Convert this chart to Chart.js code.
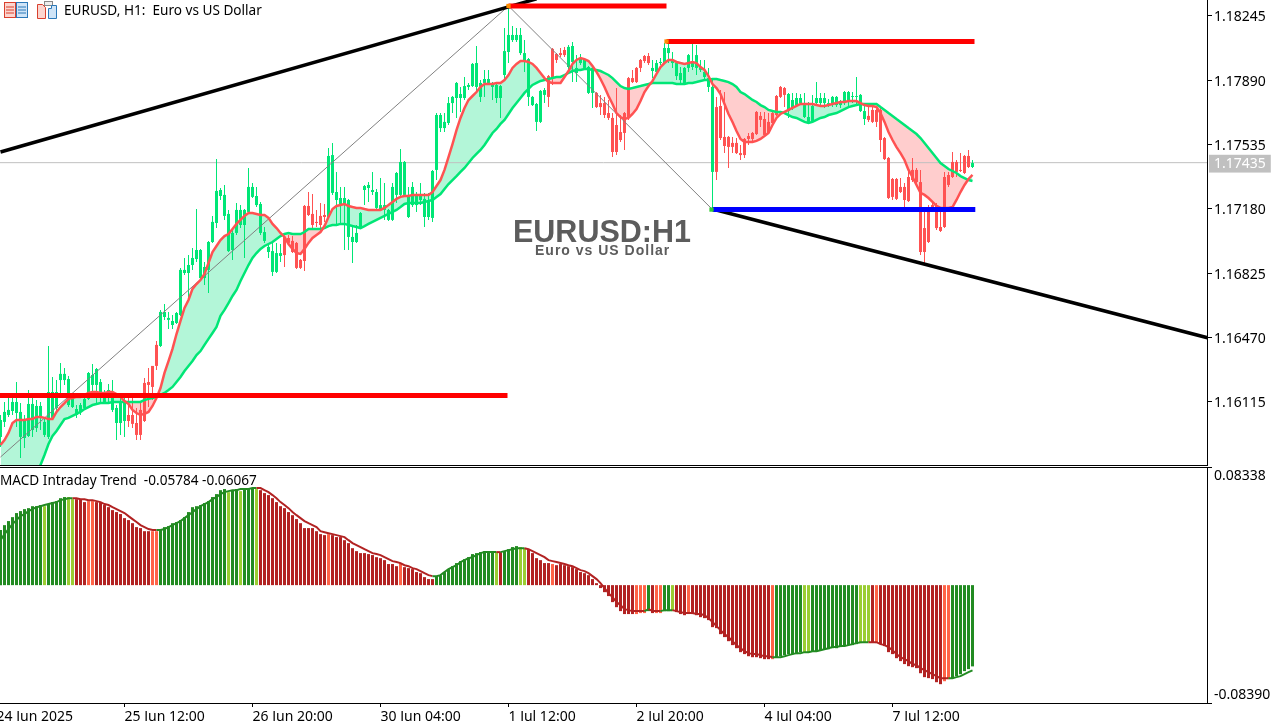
<!DOCTYPE html>
<html>
<head>
<meta charset="utf-8">
<title>EURUSD H1</title>
<script src="https://cdn.jsdelivr.net/npm/chart.js@4/dist/chart.umd.min.js"></script>
<style>
  html, body { margin: 0; background: #fff; overflow: hidden; }
  body { width: 1284px; height: 721px; position: relative; font-family: 'Noto Sans', sans-serif; }
  canvas { position: absolute; left: 0; }
  #chart-price { top: 0; }
  #chart-macd { top: 466px; }
  .label { position: absolute; white-space: pre; color: #000; font-size: 13.6px; line-height: 18px; }
  .mark { position: absolute; font-family: 'Liberation Sans', sans-serif; font-weight: bold; color: #5c5c5c; white-space: pre; }
  svg { position: absolute; }
</style>
</head>
<body>
<canvas id="chart-price" width="1284" height="466"></canvas>
<canvas id="chart-macd" width="1284" height="255"></canvas>

<svg style="left:4px;top:2px" width="24" height="16" viewBox="0 0 24 16">
  <rect x="0.5" y="0.5" width="11" height="15" fill="#fbd5cf" stroke="#d9402e"/>
  <rect x="12.5" y="0.5" width="11" height="15" fill="#cfe4f7" stroke="#2b78b8"/>
  <path d="M2 5h8M2 8h8M2 11h8" stroke="#d9402e"/>
  <path d="M14 5h8M14 8h8M14 11h8" stroke="#2b78b8"/>
</svg>
<svg style="left:37px;top:1px" width="22" height="18" viewBox="0 0 22 18">
  <path d="M0.5 3.5h5l3 3v11h-8z" fill="#fbd5cf" stroke="#d9402e"/>
  <rect x="7.5" y="0.5" width="8" height="4" fill="#eee" stroke="#888"/>
  <path d="M11.5 7.5h3v-3h5v13h-8z" fill="#cfe4f7" stroke="#2b78b8"/>
</svg>
<div class="label" style="left:64px;top:1px">EURUSD, H1:  Euro vs US Dollar</div>
<div class="label" style="left:0;top:471px">MACD Intraday Trend  -0.05784 -0.06067</div>
<div class="mark" style="left:513px;top:214px;font-size:30.5px;line-height:34px">EURUSD:H1</div>
<div class="mark" style="left:535px;top:242px;font-size:14px;line-height:16px;letter-spacing:1px">Euro vs US Dollar</div>

<script>
const highs = [
  1.16042,1.16114,1.16142,1.16142,1.16224,1.16108,1.16042,1.16180,1.16136,1.16125,
  1.16114,1.16031,1.16423,1.16252,1.16235,1.16329,1.16302,1.16257,1.16164,1.16097,
  1.16108,1.16142,1.16280,1.16324,1.16302,1.16241,1.16180,1.16213,1.16235,1.16097,
  1.16136,1.16136,1.16136,1.16136,1.16081,1.16108,1.16246,1.16302,1.16313,1.16451,
  1.16622,1.16655,1.16611,1.16594,1.16611,1.16854,1.16909,1.16925,1.16964,1.17179,
  1.16959,1.16887,1.17003,1.17141,1.17455,1.17295,1.17312,1.17174,1.17074,1.17212,
  1.17201,1.17179,1.17406,1.17323,1.17301,1.17218,1.17080,1.16992,1.16992,1.16992,
  1.16986,1.17030,1.17036,1.17030,1.16997,1.16903,1.17201,1.17273,1.17262,1.17174,
  1.17212,1.17207,1.17516,1.17544,1.17384,1.17301,1.17301,1.17235,1.17091,1.17091,
  1.17163,1.17312,1.17328,1.17384,1.17290,1.17350,1.17323,1.17179,1.17323,1.17384,
  1.17511,1.17444,1.17301,1.17328,1.17273,1.17323,1.17268,1.17268,1.17395,1.17709,
  1.17709,1.17709,1.17798,1.17803,1.17880,1.17853,1.17908,1.17875,1.17985,1.18079,
  1.17891,1.17947,1.17947,1.17880,1.17875,1.17864,1.18178,1.18300,1.18189,1.18178,
  1.18178,1.18112,1.18013,1.17803,1.17764,1.17836,1.17847,1.17919,1.18068,1.18040,
  1.18068,1.18074,1.18085,1.18101,1.18029,1.18035,1.18013,1.17969,1.17963,1.17825,
  1.17809,1.17798,1.17781,1.17709,1.17847,1.17698,1.17715,1.17908,1.17947,1.17963,
  1.18007,1.18029,1.18040,1.18002,1.18002,1.18013,1.18096,1.18112,1.18046,1.17991,
  1.17963,1.17963,1.18035,1.18096,1.18085,1.18002,1.18002,1.17958,1.17902,1.17798,
  1.17836,1.17825,1.17582,1.17577,1.17571,1.17533,1.17571,1.17599,1.17604,1.17720,
  1.17715,1.17715,1.17709,1.17726,1.17809,1.17858,1.17853,1.17820,1.17820,1.17820,
  1.17814,1.17820,1.17770,1.17809,1.17880,1.17820,1.17820,1.17787,1.17803,1.17803,
  1.17781,1.17831,1.17831,1.17825,1.17908,1.17814,1.17764,1.17753,1.17748,1.17731,
  1.17737,1.17577,1.17466,1.17350,1.17350,1.17350,1.17323,1.17406,1.17461,1.17406,
  1.17395,1.17190,1.17201,1.17212,1.17212,1.17190,1.17384,1.17384,1.17494,1.17450,
  1.17488,1.17477,1.17505,1.17450
]
const lows = [
  1.15866,1.15976,1.16031,1.16042,1.15976,1.15805,1.15860,1.15921,1.15921,1.15948,
  1.15959,1.15921,1.15910,1.16015,1.16059,1.16136,1.16208,1.16086,1.16081,1.16026,
  1.16042,1.16070,1.16125,1.16169,1.16108,1.16114,1.16108,1.16108,1.16059,1.15904,
  1.15932,1.15921,1.15976,1.15970,1.15904,1.15904,1.16004,1.16086,1.16125,1.16291,
  1.16418,1.16567,1.16517,1.16517,1.16545,1.16589,1.16815,1.16677,1.16843,1.16887,
  1.16793,1.16760,1.16716,1.16992,1.17074,1.17229,1.17119,1.16942,1.16898,1.17036,
  1.17074,1.16909,1.17157,1.17240,1.17190,1.17036,1.16992,1.16909,1.16809,1.16826,
  1.16887,1.16859,1.16981,1.16936,1.16848,1.16848,1.16837,1.17141,1.17063,1.17080,
  1.17047,1.17108,1.17130,1.17257,1.17091,1.17091,1.16953,1.16953,1.16881,1.16992,
  1.17069,1.17201,1.17218,1.17257,1.17174,1.17168,1.17119,1.17113,1.17113,1.17212,
  1.17251,1.17251,1.17130,1.17190,1.17163,1.17201,1.17080,1.17119,1.17108,1.17339,
  1.17604,1.17604,1.17643,1.17709,1.17682,1.17715,1.17781,1.17836,1.17853,1.17825,
  1.17770,1.17798,1.17864,1.17781,1.17764,1.17682,1.17891,1.17985,1.18101,1.18101,
  1.18029,1.17936,1.17748,1.17748,1.17610,1.17654,1.17764,1.17742,1.17864,1.17985,
  1.18018,1.18018,1.17947,1.17880,1.17880,1.17974,1.17952,1.17814,1.17737,1.17737,
  1.17698,1.17682,1.17671,1.17466,1.17477,1.17549,1.17505,1.17671,1.17875,1.17875,
  1.17936,1.17985,1.17974,1.17902,1.17919,1.17974,1.17980,1.17985,1.17958,1.17891,
  1.17864,1.17864,1.17936,1.17947,1.17919,1.17936,1.17891,1.17825,1.17185,1.17339,
  1.17560,1.17488,1.17406,1.17488,1.17483,1.17450,1.17461,1.17533,1.17544,1.17588,
  1.17632,1.17582,1.17593,1.17643,1.17693,1.17792,1.17742,1.17682,1.17726,1.17742,
  1.17753,1.17682,1.17654,1.17654,1.17753,1.17753,1.17737,1.17742,1.17742,1.17742,
  1.17737,1.17753,1.17737,1.17764,1.17753,1.17715,1.17643,1.17660,1.17654,1.17632,
  1.17494,1.17450,1.17235,1.17229,1.17229,1.17268,1.17185,1.17218,1.17328,1.17323,
  1.16925,1.16881,1.16992,1.17163,1.17063,1.17052,1.17074,1.17301,1.17350,1.17356,
  1.17384,1.17373,1.17406,1.17406
]
const bodyTop = [
  1.16015,1.16059,1.16070,1.16114,1.16114,1.16059,1.16015,1.16103,1.16103,1.16092,
  1.16092,1.16004,1.16169,1.16169,1.16169,1.16269,1.16269,1.16241,1.16136,1.16075,
  1.16097,1.16131,1.16274,1.16263,1.16296,1.16224,1.16153,1.16180,1.16169,1.16081,
  1.16108,1.16114,1.16042,1.16042,1.15998,1.16070,1.16219,1.16224,1.16313,1.16429,
  1.16611,1.16611,1.16578,1.16561,1.16605,1.16843,1.16843,1.16870,1.16909,1.16953,
  1.16953,1.16859,1.16997,1.17108,1.17279,1.17284,1.17257,1.17152,1.17047,1.17174,
  1.17174,1.17174,1.17301,1.17301,1.17251,1.17207,1.17052,1.16970,1.16947,1.16936,
  1.16936,1.17025,1.17019,1.17003,1.16992,1.16898,1.17196,1.17196,1.17152,1.17108,
  1.17141,1.17146,1.17472,1.17477,1.17273,1.17240,1.17240,1.17229,1.17025,1.17047,
  1.17157,1.17306,1.17312,1.17284,1.17273,1.17201,1.17201,1.17174,1.17301,1.17378,
  1.17439,1.17439,1.17251,1.17301,1.17251,1.17251,1.17235,1.17229,1.17389,1.17698,
  1.17698,1.17660,1.17764,1.17798,1.17875,1.17814,1.17858,1.17864,1.17980,1.17985,
  1.17875,1.17897,1.17897,1.17875,1.17864,1.17858,1.18051,1.18140,1.18140,1.18140,
  1.18140,1.18040,1.18007,1.17798,1.17759,1.17831,1.17836,1.17913,1.18063,1.18035,
  1.18040,1.18057,1.18074,1.18079,1.17958,1.18013,1.18002,1.17963,1.17958,1.17820,
  1.17764,1.17764,1.17709,1.17682,1.17643,1.17604,1.17709,1.17902,1.17902,1.17958,
  1.18002,1.18024,1.18024,1.17958,1.17985,1.17991,1.18068,1.18068,1.18002,1.17985,
  1.17930,1.17958,1.18029,1.17991,1.18029,1.17963,1.17936,1.17902,1.17853,1.17742,
  1.17748,1.17577,1.17577,1.17544,1.17544,1.17488,1.17566,1.17582,1.17599,1.17715,
  1.17693,1.17676,1.17660,1.17709,1.17803,1.17853,1.17847,1.17814,1.17781,1.17792,
  1.17792,1.17753,1.17687,1.17748,1.17792,1.17792,1.17792,1.17764,1.17798,1.17798,
  1.17770,1.17825,1.17825,1.17803,1.17803,1.17809,1.17720,1.17693,1.17726,1.17726,
  1.17726,1.17571,1.17461,1.17345,1.17345,1.17301,1.17301,1.17356,1.17395,1.17395,
  1.17328,1.17074,1.17190,1.17201,1.17201,1.17080,1.17356,1.17367,1.17439,1.17439,
  1.17395,1.17472,1.17472,1.17433
]
const bodyBottom = [
  1.15921,1.16004,1.16042,1.16064,1.16053,1.15921,1.15915,1.15926,1.15959,1.15970,
  1.16031,1.15932,1.15921,1.16026,1.16081,1.16235,1.16235,1.16097,1.16086,1.16042,
  1.16059,1.16081,1.16131,1.16208,1.16208,1.16136,1.16114,1.16136,1.16070,1.15998,
  1.15998,1.16009,1.16009,1.15993,1.15932,1.15932,1.16009,1.16208,1.16197,1.16313,
  1.16423,1.16583,1.16567,1.16539,1.16550,1.16594,1.16826,1.16826,1.16870,1.16903,
  1.16798,1.16798,1.16843,1.16997,1.17102,1.17251,1.17141,1.16947,1.16953,1.17047,
  1.17091,1.17091,1.17163,1.17246,1.17201,1.17047,1.17003,1.16942,1.16832,1.16832,
  1.16920,1.16925,1.16992,1.16942,1.16854,1.16854,1.16892,1.17146,1.17091,1.17102,
  1.17091,1.17135,1.17135,1.17268,1.17229,1.17201,1.17201,1.17025,1.16997,1.16997,
  1.17074,1.17284,1.17295,1.17273,1.17185,1.17174,1.17174,1.17119,1.17119,1.17257,
  1.17257,1.17257,1.17135,1.17201,1.17201,1.17229,1.17135,1.17135,1.17130,1.17395,
  1.17626,1.17626,1.17654,1.17764,1.17792,1.17792,1.17792,1.17853,1.17858,1.17853,
  1.17798,1.17875,1.17875,1.17853,1.17792,1.17792,1.17919,1.18046,1.18112,1.18112,
  1.18040,1.17991,1.17798,1.17753,1.17660,1.17660,1.17809,1.17798,1.17902,1.18002,
  1.18029,1.18029,1.17963,1.17991,1.17930,1.17985,1.17958,1.17820,1.17820,1.17742,
  1.17742,1.17698,1.17682,1.17494,1.17494,1.17560,1.17599,1.17682,1.17880,1.17880,
  1.17958,1.17996,1.17985,1.17941,1.17936,1.17985,1.17985,1.18040,1.17985,1.17913,
  1.17891,1.17875,1.17958,1.17963,1.17958,1.17947,1.17908,1.17853,1.17384,1.17384,
  1.17571,1.17527,1.17522,1.17522,1.17488,1.17477,1.17477,1.17566,1.17566,1.17593,
  1.17671,1.17588,1.17599,1.17654,1.17698,1.17798,1.17809,1.17720,1.17737,1.17753,
  1.17764,1.17687,1.17660,1.17660,1.17764,1.17764,1.17764,1.17753,1.17759,1.17753,
  1.17753,1.17764,1.17781,1.17798,1.17798,1.17720,1.17676,1.17671,1.17660,1.17660,
  1.17560,1.17455,1.17240,1.17246,1.17235,1.17273,1.17229,1.17223,1.17339,1.17328,
  1.16942,1.16942,1.16997,1.17190,1.17074,1.17058,1.17080,1.17312,1.17356,1.17384,
  1.17389,1.17378,1.17411,1.17411
]
const fastMA = [
  1.15877,1.15904,1.15943,1.15998,1.16015,1.16015,1.16015,1.16020,1.16020,1.16031,
  1.16031,1.16026,1.16020,1.16020,1.16059,1.16086,1.16108,1.16131,1.16136,1.16142,
  1.16142,1.16153,1.16164,1.16169,1.16169,1.16164,1.16164,1.16169,1.16169,1.16158,
  1.16142,1.16119,1.16103,1.16070,1.16053,1.16042,1.16048,1.16059,1.16092,1.16136,
  1.16191,1.16274,1.16340,1.16407,1.16489,1.16561,1.16633,1.16677,1.16738,1.16765,
  1.16787,1.16821,1.16881,1.16942,1.16975,1.17008,1.17030,1.17041,1.17069,1.17097,
  1.17119,1.17141,1.17157,1.17157,1.17152,1.17146,1.17146,1.17130,1.17097,1.17074,
  1.17047,1.17025,1.16986,1.16959,1.16936,1.16931,1.16959,1.16992,1.17019,1.17036,
  1.17052,1.17085,1.17135,1.17179,1.17196,1.17201,1.17207,1.17196,1.17190,1.17185,
  1.17185,1.17179,1.17174,1.17174,1.17174,1.17174,1.17185,1.17201,1.17218,1.17235,
  1.17246,1.17251,1.17251,1.17257,1.17257,1.17257,1.17257,1.17257,1.17273,1.17306,
  1.17339,1.17395,1.17466,1.17538,1.17615,1.17682,1.17737,1.17781,1.17803,1.17825,
  1.17853,1.17869,1.17869,1.17869,1.17875,1.17875,1.17891,1.17919,1.17958,1.17980,
  1.17996,1.17996,1.17991,1.17980,1.17958,1.17930,1.17902,1.17880,1.17875,1.17875,
  1.17875,1.17908,1.17941,1.17980,1.18002,1.18013,1.18007,1.17996,1.17969,1.17936,
  1.17897,1.17853,1.17803,1.17759,1.17709,1.17687,1.17676,1.17682,1.17704,1.17731,
  1.17775,1.17825,1.17858,1.17886,1.17925,1.17963,1.17985,1.18002,1.18002,1.17991,
  1.17985,1.17980,1.17985,1.17991,1.17985,1.17963,1.17947,1.17913,1.17869,1.17847,
  1.17814,1.17759,1.17704,1.17660,1.17610,1.17566,1.17549,1.17549,1.17549,1.17555,
  1.17566,1.17582,1.17599,1.17643,1.17682,1.17704,1.17715,1.17726,1.17737,1.17748,
  1.17759,1.17759,1.17759,1.17759,1.17753,1.17748,1.17748,1.17753,1.17759,1.17764,
  1.17770,1.17770,1.17775,1.17775,1.17775,1.17764,1.17753,1.17748,1.17748,1.17742,
  1.17709,1.17660,1.17604,1.17560,1.17521,1.17488,1.17450,1.17395,1.17356,1.17312,
  1.17268,1.17257,1.17240,1.17218,1.17196,1.17185,1.17185,1.17185,1.17190,1.17229,
  1.17273,1.17312,1.17345,1.17367
]
const slowMA = [
  1.15490,1.15518,1.15545,1.15573,1.15601,1.15628,1.15656,1.15683,1.15705,1.15733,
  1.15766,1.15821,1.15882,1.15926,1.15954,1.15987,1.16020,1.16026,1.16037,1.16048,
  1.16059,1.16075,1.16086,1.16097,1.16103,1.16108,1.16108,1.16108,1.16114,1.16114,
  1.16114,1.16114,1.16114,1.16114,1.16114,1.16114,1.16125,1.16131,1.16136,1.16142,
  1.16153,1.16164,1.16180,1.16197,1.16224,1.16252,1.16285,1.16313,1.16340,1.16373,
  1.16395,1.16429,1.16462,1.16495,1.16528,1.16589,1.16622,1.16660,1.16699,1.16732,
  1.16782,1.16826,1.16870,1.16909,1.16936,1.16959,1.16975,1.16986,1.16997,1.17014,
  1.17030,1.17041,1.17047,1.17041,1.17041,1.17041,1.17052,1.17069,1.17069,1.17069,
  1.17069,1.17074,1.17085,1.17091,1.17091,1.17097,1.17097,1.17091,1.17085,1.17080,
  1.17074,1.17085,1.17097,1.17108,1.17119,1.17130,1.17141,1.17152,1.17163,1.17174,
  1.17190,1.17207,1.17212,1.17212,1.17212,1.17212,1.17218,1.17223,1.17229,1.17246,
  1.17262,1.17290,1.17317,1.17339,1.17361,1.17384,1.17406,1.17433,1.17461,1.17483,
  1.17505,1.17533,1.17566,1.17599,1.17621,1.17649,1.17671,1.17704,1.17737,1.17764,
  1.17792,1.17820,1.17842,1.17864,1.17875,1.17886,1.17891,1.17897,1.17902,1.17908,
  1.17908,1.17919,1.17930,1.17941,1.17947,1.17947,1.17952,1.17952,1.17947,1.17947,
  1.17941,1.17930,1.17919,1.17902,1.17880,1.17858,1.17847,1.17842,1.17847,1.17853,
  1.17858,1.17864,1.17869,1.17875,1.17875,1.17875,1.17875,1.17875,1.17875,1.17869,
  1.17869,1.17869,1.17875,1.17875,1.17880,1.17886,1.17891,1.17891,1.17897,1.17897,
  1.17891,1.17886,1.17880,1.17869,1.17853,1.17825,1.17814,1.17798,1.17781,1.17770,
  1.17753,1.17742,1.17726,1.17720,1.17715,1.17715,1.17709,1.17698,1.17687,1.17682,
  1.17671,1.17660,1.17654,1.17660,1.17671,1.17682,1.17687,1.17698,1.17704,1.17709,
  1.17720,1.17731,1.17742,1.17748,1.17753,1.17759,1.17759,1.17759,1.17759,1.17759,
  1.17742,1.17726,1.17709,1.17693,1.17676,1.17660,1.17643,1.17626,1.17610,1.17593,
  1.17571,1.17544,1.17516,1.17488,1.17461,1.17433,1.17417,1.17400,1.17389,1.17378,
  1.17361,1.17350,1.17339,1.17334
]
const macdHist = [
  0.0392,0.0427,0.0456,0.0484,0.0513,0.0527,0.0541,0.0548,0.0562,0.0562,
  0.0570,0.0562,0.0577,0.0591,0.0598,0.0619,0.0627,0.0627,0.0612,0.0612,
  0.0612,0.0591,0.0598,0.0598,0.0591,0.0591,0.0570,0.0555,0.0534,0.0520,
  0.0506,0.0477,0.0463,0.0441,0.0413,0.0406,0.0384,0.0384,0.0384,0.0384,
  0.0392,0.0413,0.0420,0.0441,0.0449,0.0463,0.0484,0.0520,0.0555,0.0562,
  0.0570,0.0584,0.0598,0.0627,0.0648,0.0676,0.0684,0.0662,0.0676,0.0684,
  0.0669,0.0684,0.0684,0.0691,0.0684,0.0676,0.0655,0.0641,0.0619,0.0591,
  0.0562,0.0548,0.0520,0.0498,0.0470,0.0441,0.0406,0.0406,0.0406,0.0384,
  0.0363,0.0356,0.0363,0.0356,0.0342,0.0342,0.0320,0.0299,0.0263,0.0242,
  0.0228,0.0228,0.0221,0.0214,0.0199,0.0192,0.0178,0.0150,0.0150,0.0135,
  0.0157,0.0128,0.0121,0.0114,0.0093,0.0085,0.0057,0.0043,0.0043,0.0064,
  0.0071,0.0093,0.0114,0.0135,0.0157,0.0171,0.0185,0.0199,0.0221,0.0228,
  0.0235,0.0242,0.0242,0.0242,0.0235,0.0235,0.0242,0.0256,0.0271,0.0278,
  0.0271,0.0263,0.0256,0.0228,0.0192,0.0178,0.0157,0.0157,0.0150,0.0142,
  0.0150,0.0142,0.0135,0.0128,0.0114,0.0093,0.0085,0.0071,0.0043,0.0014,
  -0.0021,-0.0050,-0.0078,-0.0121,-0.0157,-0.0185,-0.0206,-0.0206,-0.0206,-0.0206,
  -0.0199,-0.0199,-0.0185,-0.0199,-0.0199,-0.0199,-0.0185,-0.0185,-0.0185,-0.0192,
  -0.0206,-0.0214,-0.0206,-0.0206,-0.0214,-0.0228,-0.0235,-0.0249,-0.0299,-0.0306,
  -0.0349,-0.0370,-0.0399,-0.0427,-0.0449,-0.0477,-0.0491,-0.0506,-0.0513,-0.0513,
  -0.0520,-0.0527,-0.0527,-0.0527,-0.0513,-0.0506,-0.0498,-0.0491,-0.0491,-0.0491,
  -0.0477,-0.0477,-0.0477,-0.0470,-0.0470,-0.0463,-0.0456,-0.0456,-0.0449,-0.0449,
  -0.0441,-0.0434,-0.0427,-0.0427,-0.0420,-0.0413,-0.0406,-0.0406,-0.0406,-0.0413,
  -0.0420,-0.0434,-0.0477,-0.0491,-0.0520,-0.0541,-0.0562,-0.0577,-0.0584,-0.0591,
  -0.0627,-0.0655,-0.0662,-0.0669,-0.0691,-0.0705,-0.0684,-0.0669,-0.0662,-0.0648,
  -0.0634,-0.0612,-0.0598,-0.05784
]
const macdSignal = [
  0.0320,0.0363,0.0399,0.0434,0.0463,0.0491,0.0506,0.0527,0.0541,0.0555,
  0.0562,0.0570,0.0577,0.0584,0.0591,0.0605,0.0612,0.0619,0.0619,0.0619,
  0.0612,0.0612,0.0605,0.0605,0.0598,0.0591,0.0577,0.0570,0.0555,0.0541,
  0.0527,0.0513,0.0491,0.0470,0.0449,0.0427,0.0413,0.0399,0.0392,0.0392,
  0.0392,0.0399,0.0413,0.0427,0.0441,0.0456,0.0477,0.0498,0.0520,0.0541,
  0.0562,0.0577,0.0591,0.0612,0.0627,0.0648,0.0662,0.0669,0.0676,0.0676,
  0.0684,0.0684,0.0684,0.0691,0.0691,0.0691,0.0676,0.0662,0.0641,0.0619,
  0.0591,0.0570,0.0548,0.0520,0.0498,0.0477,0.0456,0.0441,0.0427,0.0413,
  0.0384,0.0377,0.0370,0.0363,0.0356,0.0349,0.0342,0.0320,0.0299,0.0285,
  0.0271,0.0256,0.0242,0.0228,0.0221,0.0214,0.0199,0.0185,0.0171,0.0164,
  0.0157,0.0142,0.0135,0.0121,0.0114,0.0100,0.0085,0.0071,0.0064,0.0064,
  0.0071,0.0093,0.0114,0.0128,0.0142,0.0164,0.0178,0.0192,0.0199,0.0214,
  0.0228,0.0235,0.0235,0.0235,0.0235,0.0235,0.0242,0.0249,0.0256,0.0263,
  0.0263,0.0263,0.0256,0.0242,0.0228,0.0214,0.0199,0.0178,0.0171,0.0164,
  0.0157,0.0150,0.0142,0.0135,0.0121,0.0107,0.0100,0.0085,0.0064,0.0043,
  0.0014,-0.0021,-0.0057,-0.0085,-0.0121,-0.0142,-0.0171,-0.0178,-0.0185,-0.0185,
  -0.0185,-0.0185,-0.0171,-0.0185,-0.0185,-0.0185,-0.0178,-0.0178,-0.0178,-0.0185,
  -0.0192,-0.0199,-0.0199,-0.0199,-0.0206,-0.0206,-0.0214,-0.0235,-0.0263,-0.0292,
  -0.0320,-0.0349,-0.0370,-0.0399,-0.0427,-0.0449,-0.0470,-0.0484,-0.0491,-0.0491,
  -0.0498,-0.0506,-0.0506,-0.0513,-0.0513,-0.0513,-0.0506,-0.0498,-0.0491,-0.0484,
  -0.0484,-0.0477,-0.0477,-0.0470,-0.0470,-0.0463,-0.0456,-0.0449,-0.0441,-0.0441,
  -0.0434,-0.0434,-0.0427,-0.0420,-0.0413,-0.0406,-0.0406,-0.0406,-0.0406,-0.0406,
  -0.0420,-0.0427,-0.0441,-0.0463,-0.0491,-0.0513,-0.0527,-0.0541,-0.0562,-0.0570,
  -0.0591,-0.0605,-0.0619,-0.0634,-0.0648,-0.0662,-0.0662,-0.0662,-0.0662,-0.0655,
  -0.0648,-0.0634,-0.0619,-0.06067
]
// runs of [state, bars]
const macdRuns = [
  ['G',11],['g',1],['G',5],['g',2],['R',3],['r',2],['R',14],['r',2],['G',17],['g',1],['G',2],['g',1],
  ['G',3],['g',1],['R',17],['r',1],['R',17],['r',1],['R',8],['G',15],['g',1],['R',1],['G',4],['g',2],
  ['R',6],['r',1],['R',20],['r',3],['G',1],['R',1],['r',2],['G',2],['g',1],['R',3],['r',1],['R',20],
  ['r',1],['G',7],['g',2],['G',12],['g',3],['R',1],['r',1],['R',16],['r',2],['G',6]
]
const candleRuns = [
  ['up',32],['down',8],['up',31],['down',11],['up',55],['down',5],['up',7],['down',14],['up',16],
  ['down',18],['up',20],['down',26],['up',1]
]

const priceTicks = [1.16115, 1.1647, 1.16825, 1.1718, 1.17435, 1.17535, 1.1789, 1.18245]
const lastPrice = 1.17435
const macdTicks = [-0.0839, 0.08338]
const timeTicks = [-1, 31, 63, 95, 127, 159, 191, 223]
const timeLabels = ['24 Jun 2025', '25 Jun 12:00', '26 Jun 20:00', '30 Jun 04:00', '1 Jul 12:00', '2 Jul 20:00', '4 Jul 04:00', '7 Jul 12:00']

// drawn objects: [bar index, price]
const zigzag = [[0, 1.15810], [127, 1.18300], [178, 1.17176]]
const trendUp = [[0, 1.17494], [134, 1.18339]]
const trendDown = [[178, 1.17179], [302, 1.16467]]
const redLevels = [
  [[-1, 1.16150], [126.75, 1.16150]],
  [[127, 1.18300], [166.5, 1.18300]],
  [[166.5, 1.18104], [243.5, 1.18104]]
]
const blueLevel = [[178, 1.17176], [243.7, 1.17176]]
const swingPoints = [[127, 1.18300], [166.5, 1.18104], [177.75, 1.17176]]

const X_MIN = -0.125
const X_MAX = 301.625
const GREEN = '#00e676'
const RED = '#ff5252'

const expand = runs => runs.flatMap(([s, n]) => Array(n).fill(s))
const pts = rows => rows.map(([x, y]) => ({ x, y }))
const series = values => values.map((y, x) => ({ x, y }))

const candleState = expand(candleRuns)
const candleColors = candleState.map(s => (s === 'up' ? GREEN : RED))
const macdState = expand(macdRuns)
const macdPalette = { G: '#228b22', g: '#9acd32', R: '#b22222', r: '#ff6347' }

const axisFont = { family: "'Noto Sans', sans-serif", size: 14 }
const common = {
  responsive: false,
  animation: false,
  devicePixelRatio: 1,
  events: [],
  layout: { padding: 0, autoPadding: false },
  plugins: { legend: { display: false }, tooltip: { enabled: false } },
}

// the library reserves half a label above and below a y axis, we don't want that here
const fixYAxis = scale => {
  scale.width = 77
  scale.paddingTop = 0
  scale.paddingBottom = 0
}
const fixXAxis = h => scale => {
  scale.height = h
  scale.paddingLeft = 0
  scale.paddingRight = 0
}

const thinLine = (data, color, width, order) => ({
  type: 'line', data, borderColor: color, borderWidth: width, pointRadius: 0, order, tension: 0,
})
const flatBar = (data, thickness, colors, order) => ({
  type: 'bar', data, barThickness: thickness, grouped: false, backgroundColor: colors,
  borderWidth: 0, inflateAmount: 0, order,
})

new Chart(document.getElementById('chart-price'), {
  type: 'bar',
  data: {
    datasets: [
      // band between the two averages, kept behind the candles
      {
        type: 'line', data: series(fastMA), borderWidth: 0, borderColor: 'transparent', pointRadius: 0, order: 20,
        fill: { target: 1, above: '#b3f6d8', below: '#ffcdcd' },
      },
      thinLine(series(slowMA), GREEN, 2.5, 7),
      thinLine(series(fastMA), RED, 2.5, 6),
      thinLine([{ x: X_MIN, y: lastPrice }, { x: X_MAX, y: lastPrice }], '#c0c0c0', 1, 15),
      flatBar(highs.map((h, i) => ({ x: i, y: [lows[i], h] })), 1, candleColors, 12),
      flatBar(bodyTop.map((t, i) => ({ x: i, y: [bodyBottom[i], t] })), 3, candleColors, 11),
      thinLine(pts(zigzag), '#808080', 1, 9),
      thinLine(pts(trendUp), '#000', 3.5, 5),
      thinLine(pts(trendDown), '#000', 3.5, 5),
      ...redLevels.map(l => thinLine(pts(l), '#ff0000', 5, 4)),
      thinLine(pts(blueLevel), '#0000ff', 5, 4),
      {
        type: 'line', data: pts(swingPoints), showLine: false, pointStyle: 'rect', pointRadius: 3,
        pointBackgroundColor: ['#ff8c00', '#ff8c00', '#32cd32'], pointBorderWidth: 0, order: 1,
      },
    ],
  },
  options: {
    ...common,
    scales: {
      x: {
        type: 'linear', min: X_MIN, max: X_MAX, offset: false,
        grid: { display: false, offset: false },
        ticks: { display: false },
        border: { color: '#000' },
        afterFit: fixXAxis(1),
      },
      y: {
        position: 'right', min: 1.15766, max: 1.18333,
        grid: {
          drawOnChartArea: false, tickLength: 5,
          tickColor: ctx => (ctx.tick && ctx.tick.value === lastPrice ? 'transparent' : '#000'),
        },
        border: { color: '#000' },
        afterBuildTicks: s => { s.ticks = priceTicks.map(value => ({ value })) },
        afterFit: fixYAxis,
        ticks: {
          autoSkip: false, padding: 2, crossAlign: 'near', font: axisFont, labelOffset: 1.5,
          callback: v => v.toFixed(5),
          color: ctx => (ctx.tick.value === lastPrice ? '#fff' : '#000'),
          showLabelBackdrop: ctx => ctx.tick.value === lastPrice,
          backdropColor: '#c0c0c0',
          backdropPadding: { top: 1, bottom: 0, left: 5, right: 5 },
        },
      },
    },
  },
})

new Chart(document.getElementById('chart-macd'), {
  type: 'bar',
  data: {
    datasets: [
      flatBar(series(macdHist), 3, macdState.map(s => macdPalette[s]), 5),
      {
        type: 'line', data: series(macdSignal), borderWidth: 2, pointRadius: 0, order: 1, tension: 0,
        borderColor: macdPalette.R,
        segment: {
          borderColor: ctx => (macdState[ctx.p1DataIndex].toUpperCase() === 'G' ? macdPalette.G : macdPalette.R),
        },
      },
    ],
  },
  options: {
    ...common,
    scales: {
      x: {
        type: 'linear', min: X_MIN, max: X_MAX, offset: false, position: 'bottom',
        grid: { drawOnChartArea: false, tickLength: 4, tickColor: '#000', offset: false },
        border: { color: '#000' },
        afterBuildTicks: s => { s.ticks = timeTicks.map(value => ({ value })) },
        afterFit: fixXAxis(18),
        ticks: {
          autoSkip: false, maxRotation: 0, align: 'start', padding: 2, color: '#000', font: axisFont,
          callback: (v, i) => timeLabels[i],
        },
      },
      xTop: {
        type: 'linear', axis: 'x', min: X_MIN, max: X_MAX, position: 'top', offset: false,
        grid: { display: false, offset: false },
        ticks: { display: false },
        border: { color: '#000' },
        afterFit: fixXAxis(1),
      },
      y: {
        position: 'right', min: -0.0839, max: 0.08409,
        grid: { drawOnChartArea: false, tickLength: 5, tickColor: '#000' },
        border: { color: '#000' },
        afterBuildTicks: s => { s.ticks = macdTicks.map(value => ({ value })) },
        afterFit: fixYAxis,
        ticks: {
          autoSkip: false, padding: 2, crossAlign: 'near', color: '#000',
          font: { ...axisFont, lineHeight: '16px' },
          // first and last labels sit inside the pane, an empty line pushes them in
          callback: v => (v > 0 ? ['', v.toFixed(5)] : [v.toFixed(5), '']),
        },
      },
    },
  },
})
</script>
</body>
</html>
